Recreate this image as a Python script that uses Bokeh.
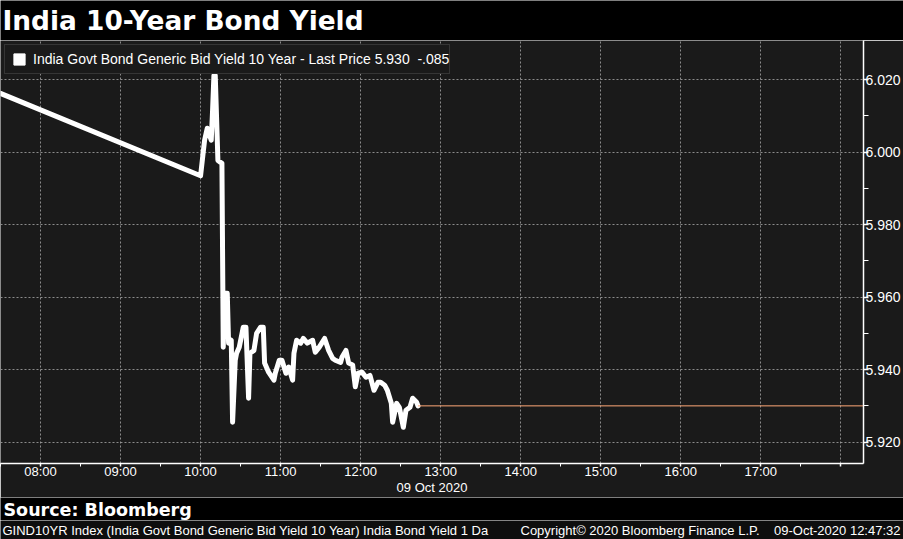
from bokeh.plotting import figure
from bokeh.models import Range1d, FixedTicker, Label, Legend, LegendItem
from bokeh.layouts import column
from bokeh.embed import file_html
from bokeh.resources import INLINE

# ---------------- data ----------------
TITLE = "India 10-Year Bond Yield"
SERIES_NAME = "India Govt Bond Generic Bid Yield 10 Year"
LAST_PRICE = 5.930
NET_CHANGE = "-.085"

TIMES = ["07:30", "10:00", "10:03", "10:05", "10:08", "10:09", "10:10", "10:11", "10:13",
         "10:16", "10:17", "10:18", "10:20", "10:21", "10:23", "10:24", "10:26", "10:27",
         "10:29", "10:32", "10:34", "10:36", "10:37", "10:40", "10:42", "10:45", "10:47",
         "10:48", "10:51", "10:55", "10:56", "10:59", "11:01", "11:04", "11:06", "11:09",
         "11:10", "11:12", "11:15", "11:17", "11:20", "11:24", "11:26", "11:29", "11:33",
         "11:36", "11:39", "11:41", "11:45", "11:46", "11:49", "11:51", "11:54", "11:56",
         "11:58", "12:01", "12:04", "12:07", "12:10", "12:13", "12:15", "12:18", "12:20",
         "12:23", "12:24", "12:27", "12:29", "12:32", "12:34", "12:37", "12:39", "12:42",
         "12:43"]
YIELDS = [6.0162, 5.9935, 6.0033, 6.0066, 6.0033, 6.0115, 6.0212, 6.0212, 5.9977,
          5.9969, 5.9462, 5.9611, 5.9611, 5.9473, 5.9481, 5.9255, 5.9426, 5.9445,
          5.9462, 5.9517, 5.9517, 5.9321, 5.9445, 5.9453, 5.9500, 5.9517, 5.9517,
          5.9418, 5.9393, 5.9371, 5.9390, 5.9426, 5.9426, 5.9390, 5.9407, 5.9371,
          5.9445, 5.9481, 5.9473, 5.9486, 5.9473, 5.9481, 5.9448, 5.9462, 5.9486,
          5.9453, 5.9431, 5.9426, 5.9420, 5.9434, 5.9453, 5.9418, 5.9413, 5.9353,
          5.9390, 5.9393, 5.9379, 5.9384, 5.9343, 5.9365, 5.9365, 5.9357, 5.9343,
          5.9307, 5.9255, 5.9307, 5.9296, 5.9241, 5.9288, 5.9296, 5.9321, 5.9310,
          5.9300]

X_TICK_TIMES = ["08:00", "09:00", "10:00", "11:00", "12:00", "13:00", "14:00", "15:00",
                "16:00", "17:00", "18:00"]
X_TICK_LABELS = ["08:00", "09:00", "10:00", "11:00", "12:00", "13:00", "14:00", "15:00",
                 "16:00", "17:00", ""]
Y_TICKS = [5.920, 5.940, 5.960, 5.980, 6.000, 6.020]
Y_TICK_LABELS = ["5.920", "5.940", "5.960", "5.980", "6.000", "6.020"]
Y_MINOR_TICKS = [5.930, 5.950, 5.970, 5.990, 6.010]
DATE_LABEL = "09 Oct 2020"
X_START, X_END = "07:30", "18:17"
Y_MIN, Y_MAX = 5.9141, 6.0308

SOURCE = "Source: Bloomberg"
FOOTER_LEFT = "GIND10YR Index (India Govt Bond Generic Bid Yield 10 Year) India Bond Yield 1 Da"
FOOTER_MID = "Copyright\u00a9 2020 Bloomberg Finance L.P."
FOOTER_RIGHT = "09-Oct-2020 12:47:32"


def to_hours(s):
    h, m = s.split(":")
    return int(h) + int(m) / 60.0


xs = [to_hours(t) for t in TIMES]
x_ticks = [to_hours(t) for t in X_TICK_TIMES]
x_minor = [t + 0.5 for t in x_ticks] + [x_ticks[0] - 0.5]

W = 903
BG = "#1a1a1a"
FONT = "Liberation Sans"


def strip(height, color):
    f = figure(width=W, height=height, x_range=Range1d(0, 1), y_range=Range1d(0, 1),
               x_axis_type=None, y_axis_type=None, output_backend="svg",
               toolbar_location=None, min_border=0, background_fill_color=color,
               border_fill_color=color, outline_line_color=None, frame_align=False)
    f.grid.visible = False
    return f


# ---------------- title strip ----------------
t = strip(40, "black")
t.add_layout(Label(x=2, y=20, x_units="screen", y_units="screen", text=TITLE,
                   text_color="white", text_font="DejaVu Sans", text_font_style="bold",
                   text_font_size="26.4px", text_baseline="middle"))

# ---------------- main chart ----------------
p = figure(width=W, height=457, x_range=Range1d(to_hours(X_START), to_hours(X_END)),
           y_range=Range1d(Y_MIN, Y_MAX), y_axis_location="right",
           output_backend="svg", toolbar_location=None, min_border=0,
           background_fill_color=BG, border_fill_color=BG, outline_line_color=None,
           frame_align=False)

for g in (p.xgrid, p.ygrid):
    g.grid_line_color = "#a0a0a0"
    g.grid_line_dash = "2 2"
    g.grid_line_width = 1
    g.grid_line_alpha = 0.85
p.xgrid.ticker = FixedTicker(ticks=x_ticks)
p.ygrid.ticker = FixedTicker(ticks=Y_TICKS)

p.line(xs, YIELDS, line_color="white", line_width=5, line_join="round", line_cap="round")
p.ray(x=[xs[-1]], y=[LAST_PRICE], length=0, angle=0, line_color="#ffa878", line_width=1)

# legend key: a zero-size square on the last point (only its legend swatch shows)
sq = p.scatter(x=[xs[-1]], y=[YIELDS[-1]], marker="square", size=0,
               fill_color="white", line_color="white")
legend_text = f"{SERIES_NAME} - Last Price {LAST_PRICE:.3f}  {NET_CHANGE}"
legend = Legend(items=[LegendItem(label=legend_text, renderers=[sq])], location="top_left",
                background_fill_color=BG, background_fill_alpha=1.0,
                border_line_color="#505050", border_line_width=1,
                label_text_color="white", label_text_font=FONT, label_text_font_size="14px",
                glyph_width=28, glyph_height=28, label_standoff=0, padding=0, margin=4,
                spacing=0, label_height=14)
p.add_layout(legend)

xa = p.xaxis[0]
xa.ticker = FixedTicker(ticks=x_ticks, minor_ticks=x_minor)
xa.major_label_overrides = dict(zip(x_ticks, X_TICK_LABELS))
xa.axis_label = DATE_LABEL
xa.axis_label_text_font = FONT
xa.axis_label_text_font_size = "13px"
xa.axis_label_text_font_style = "normal"
xa.axis_label_text_color = "white"
xa.axis_label_standoff = -2
xa.major_label_text_font_size = "13px"
xa.major_label_standoff = -3
xa.major_tick_out = 3
xa.major_tick_in = 0
xa.minor_tick_out = 3
xa.minor_tick_in = 0

ya = p.yaxis[0]
ya.ticker = FixedTicker(ticks=Y_TICKS, minor_ticks=Y_MINOR_TICKS)
ya.major_label_overrides = dict(zip(Y_TICKS, Y_TICK_LABELS))
ya.major_label_text_font_size = "14px"
ya.major_label_standoff = -3
ya.major_tick_out = 5
ya.major_tick_in = 0
ya.minor_tick_out = 5
ya.minor_tick_in = 0

for a in (xa, ya):
    a.axis_line_color = "white"
    a.axis_line_width = 1.5
    a.major_tick_line_color = "white"
    a.major_tick_line_width = 1.5
    a.minor_tick_line_color = "white"
    a.minor_tick_line_width = 1
    a.major_label_text_color = "white"
    a.major_label_text_font = FONT

# ---------------- source strip ----------------
s = strip(23, "black")
s.add_layout(Label(x=3, y=11, x_units="screen", y_units="screen", text=SOURCE,
                   text_color="white", text_font="DejaVu Sans", text_font_style="bold",
                   text_font_size="17.5px", text_baseline="middle"))

# ---------------- footer strip ----------------
fo = strip(19, "#0e0e0e")
for txt, xpos, align in ((FOOTER_LEFT, 2, "left"), (FOOTER_MID, 520, "left"),
                         (FOOTER_RIGHT, 900, "right")):
    fo.add_layout(Label(x=xpos, y=9, x_units="screen", y_units="screen", text=txt,
                        text_color="white", text_font=FONT, text_font_size="13px",
                        text_baseline="middle", text_align=align))

layout = column(t, p, s, fo, spacing=0)
open("out.html", "w").write(file_html(layout, INLINE))
